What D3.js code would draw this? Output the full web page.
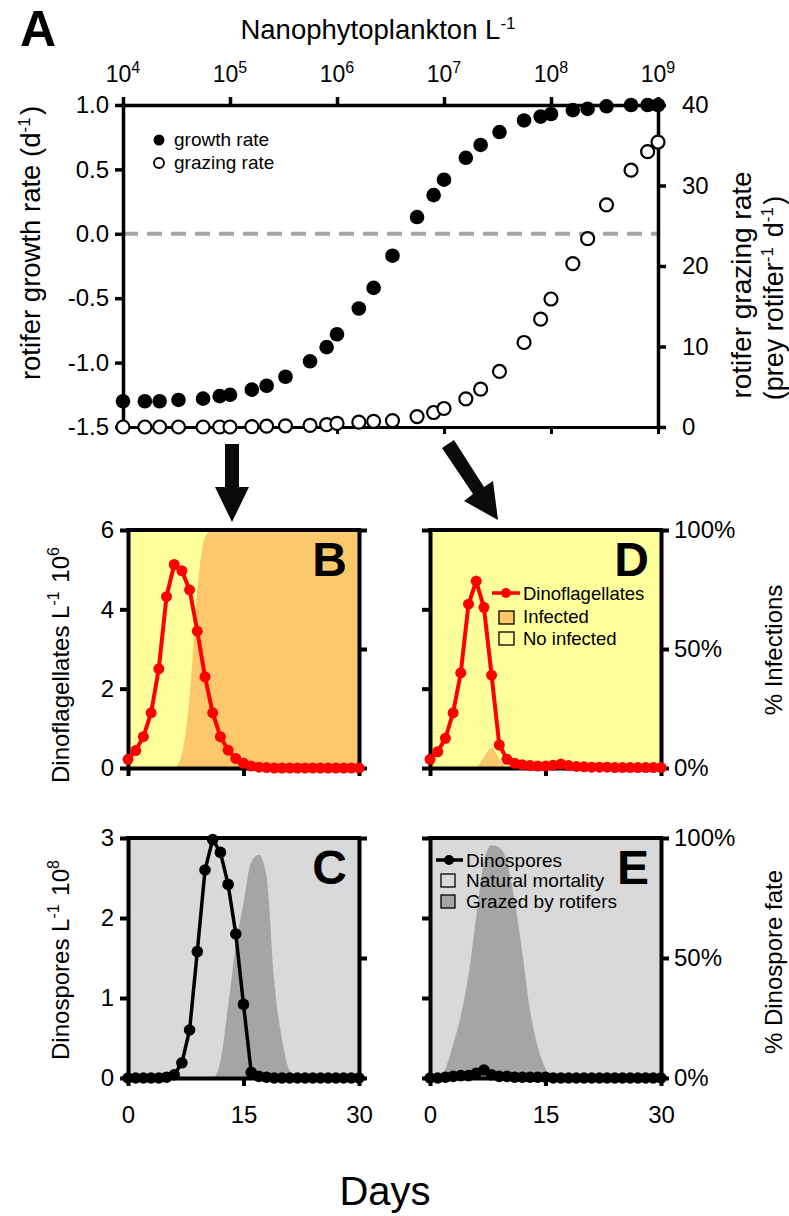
<!DOCTYPE html>
<html><head><meta charset="utf-8">
<script src="https://cdn.jsdelivr.net/npm/d3@7"></script>
<style>
html,body{margin:0;padding:0;background:#fff;}
svg text{font-family:"Liberation Sans",Arial,sans-serif;fill:#000;}
</style></head>
<body><svg id="c" width="789" height="1216"></svg>
<script>
// ---------------- DATA ----------------
// Panel A
const nanoConc = [1e4,1.6e4,2.2e4,3.3e4,5.6e4,8e4, 1e5,1.6e5,2.2e5,3.3e5,5.6e5,8e5,
  1e6,1.6e6,2.2e6,3.3e6,5.6e6,8e6, 1e7,1.6e7,2.2e7,3.3e7,5.6e7,8e7,
  1e8,1.6e8,2.2e8,3.3e8,5.6e8,8e8, 1e9];
const growthRate = [-1.30,-1.30,-1.30,-1.29,-1.28,-1.26,-1.25,-1.21,-1.18,-1.11,-0.99,-0.88,
  -0.78,-0.58,-0.42,-0.17,0.13,0.30,0.42,0.59,0.69,0.79,0.88,0.91,0.93,0.96,0.97,0.99,1.0,1.0,1.0];
const grazingRate = [0,0,0,0,0,0,0,0.05,0.1,0.15,0.2,0.3,0.45,0.6,0.7,0.8,1.3,1.8,2.3,3.5,4.7,6.9,
  10.5,13.4,15.9,20.3,23.4,27.6,31.9,34.2,35.4];
const topTickExps = [4,5,6,7,8,9];
const leftTicksA = [1.0,0.5,0.0,-0.5,-1.0,-1.5];
const rightTicksA = [0,10,20,30,40];

// Days 0..30
const days = d3.range(0,31);
// Panel B
const dinoB = [0.22,0.44,0.79,1.39,2.50,4.32,5.13,4.97,4.49,3.45,2.30,1.39,0.79,0.45,0.24,0.12,0.05,0.02,0.01,0,0,0,0,0,0,0,0,0,0,0,0];
const infectedB = [0,0,0,0,0,0,0,6,30,75,97,100,100,100,100,100,100,100,100,100,100,100,100,100,100,100,100,100,100,100,100];
// Panel D
const dinoD = [0.22,0.41,0.75,1.39,2.40,4.13,4.71,4.05,2.34,0.58,0.22,0.12,0.08,0.06,0.05,0.05,0.07,0.10,0.06,0.04,0.03,0.02,0.02,0.02,0.01,0.01,0.01,0.01,0.01,0.01,0.01];
const infectedD = [0,0,0,0,0,0,0.5,4.5,8.5,4,0,0,0,0,0,0,0,0,0,0,0,0,0,0,0,0,0,0,0,0,0];
// Panel C
const sporesC = [0,0,0,0,0,0.01,0.04,0.19,0.6,1.58,2.60,2.98,2.82,2.42,1.80,0.92,0.07,0.02,0.01,0,0,0,0,0,0,0,0,0,0,0,0];
const grazedC = [0,0,0,0,0,0,0,0,0,0,0,0,7,30,55,73,90,93,84,40,16,3,0,0,0,0,0,0,0,0,0];
// Panel E
const sporesE = [0,0,0.01,0.02,0.03,0.03,0.06,0.10,0.04,0.02,0.02,0.01,0.01,0.01,0.01,0.01,0,0,0,0,0,0,0,0,0,0,0,0,0,0,0];
const grazedE = [0,0,4,14,26,43,67,90,97,96,90,74,52,28,13,4,0,0,0,0,0,0,0,0,0,0,0,0,0,0,0];

const dayTicks = [0,15,30];
const dinoTicks = [0,2,4,6];
const sporeTicks = [0,1,2,3];
const pctTicks = [0,50,100];

// ---------------- DRAW ----------------
const svg = d3.select("#c");
const FONT = 24;

function richText(g, parts, attrs) {
  const t = g.append("text");
  for (const k in attrs) t.attr(k, attrs[k]);
  parts.forEach(p => {
    if (typeof p === "string") {
      t.append("tspan").text(p);
    } else {
      t.append("tspan").attr("dy", -p.up).attr("font-size", p.size).text(p.sup);
      if (!p.last) t.append("tspan").attr("dy", p.up).text("\u200A");
    }
  });
  return t;
}

function styleAxis(g, w) {
  g.selectAll("path.domain").attr("stroke", "#000").attr("stroke-width", w);
  g.selectAll(".tick line").attr("stroke", "#000").attr("stroke-width", w);
  g.selectAll(".tick text").attr("font-size", FONT).attr("font-family", "Liberation Sans, Arial, sans-serif").attr("fill", "#000");
}

// ===== Panel A =====
const A = {x0:123, x1:658, y0:105, y1:427};
const xA = d3.scaleLog().domain([1e4,1e9]).range([A.x0, A.x1]);
const yA = d3.scaleLinear().domain([-1.5,1]).range([A.y1, A.y0]);
const yA2 = d3.scaleLinear().domain([0,40]).range([A.y1, A.y0]);
const gA = svg.append("g");

// zero dashed line
gA.append("line").attr("x1", A.x0).attr("x2", A.x1).attr("y1", yA(0)).attr("y2", yA(0))
  .attr("stroke", "#a6a6a6").attr("stroke-width", 4).attr("stroke-dasharray", "15,9");

const decades = topTickExps.map(e => Math.pow(10, e));
const axTop = gA.append("g").attr("transform", `translate(0,${A.y0})`)
  .call(d3.axisTop(xA).tickValues(decades).tickFormat("").tickSize(8).tickSizeOuter(0));
styleAxis(axTop, 3.5);
const axBot = gA.append("g").attr("transform", `translate(0,${A.y1})`)
  .call(d3.axisBottom(xA).tickValues(decades).tickFormat("").tickSize(7).tickSizeOuter(0));
styleAxis(axBot, 3);
const axL = gA.append("g").attr("transform", `translate(${A.x0},0)`)
  .call(d3.axisLeft(yA).tickValues(leftTicksA).tickSize(8).tickSizeOuter(0).tickPadding(6)
    .tickFormat(d => d3.format(".1f")(d).replace("\u2212","-")));
styleAxis(axL, 3.5);
const axR = gA.append("g").attr("transform", `translate(${A.x1},0)`)
  .call(d3.axisRight(yA2).tickValues(rightTicksA).tickSize(8).tickSizeOuter(0).tickPadding(16)
    .tickFormat(d3.format("d")));
styleAxis(axR, 3.5);

// top tick labels 10^n
topTickExps.forEach(e => {
  const t = gA.append("text").attr("x", xA(Math.pow(10,e))).attr("y", 82)
    .attr("text-anchor", "middle").attr("font-size", 23);
  t.append("tspan").text("10");
  t.append("tspan").attr("dy", -9).attr("font-size", 16).text(String(e));
});
richText(gA, ["Nanophytoplankton L", {sup:"-1", up:10, size:17, last:true}],
  {x:378, y:39, "text-anchor":"middle", "font-size":27.5});
gA.append("text").attr("x", 20).attr("y", 46).attr("font-size", 50).attr("font-weight", "bold").text("A");

// left title
richText(gA, ["rotifer growth rate (d", {sup:"-1", up:10, size:17}, ")"],
  {transform:"translate(40,243) rotate(-90)", "text-anchor":"middle", "font-size":27.5});
richText(gA, ["rotifer grazing rate"],
  {transform:"translate(751,285) rotate(-90)", "text-anchor":"middle", "font-size":28});
richText(gA, ["(prey rotifer", {sup:"-1", up:10, size:17}, " d", {sup:"-1", up:10, size:17}, ")"],
  {transform:"translate(783,298) rotate(-90)", "text-anchor":"middle", "font-size":27});

// points
gA.append("g").selectAll("circle").data(nanoConc).join("circle")
  .attr("cx", (d) => xA(d)).attr("cy", (d,i) => yA2(grazingRate[i])).attr("r", 6.5)
  .attr("fill", "#fff").attr("stroke", "#000").attr("stroke-width", 2.2);
gA.append("g").selectAll("circle").data(nanoConc).join("circle")
  .attr("cx", (d) => xA(d)).attr("cy", (d,i) => yA(growthRate[i])).attr("r", 7.3)
  .attr("fill", "#000");

// legend A
gA.append("circle").attr("cx", 159).attr("cy", 140).attr("r", 5.5).attr("fill", "#000");
gA.append("text").attr("x", 174).attr("y", 146).attr("font-size", 19).text("growth rate");
gA.append("circle").attr("cx", 159).attr("cy", 163).attr("r", 5).attr("fill", "#fff").attr("stroke", "#000").attr("stroke-width", 1.8);
gA.append("text").attr("x", 174).attr("y", 169).attr("font-size", 19).text("grazing rate");

// arrows
svg.append("path").attr("fill", "#0a0a0a")
  .attr("d", "M225,444 L239,444 L239,487 L249,487 L232,522 L215,487 L225,487 Z");
svg.append("path").attr("fill", "#0a0a0a")
  .attr("d", "M442,448 L454,440 L484,487 L493,481 L498,520 L464,501 L473,494 Z");

// ===== small panels =====
function smallPanel(o) {
  const g = svg.append("g");
  const x = d3.scaleLinear().domain([0,30]).range([o.x0, o.x1]);
  const y = d3.scaleLinear().domain([0, o.ymax]).range([o.y1, o.y0]);
  const yp = d3.scaleLinear().domain([0,100]).range([o.y1, o.y0]);
  // background (100%)
  g.append("rect").attr("x", o.x0).attr("y", o.y0).attr("width", o.x1-o.x0).attr("height", o.y1-o.y0)
    .attr("fill", o.bg);
  // area of fraction
  const area = d3.area().x((d,i) => x(days[i])).y0(o.y1).y1(d => yp(d)).curve(d3.curveMonotoneX);
  g.append("path").datum(o.frac).attr("d", area).attr("fill", o.fg);
  // axes
  const axL = g.append("g").attr("transform", `translate(${o.x0},0)`)
    .call(d3.axisLeft(y).tickValues(o.yTicks).tickSize(8).tickSizeOuter(0).tickPadding(6)
      .tickFormat(o.leftLabels ? d3.format("d") : ""));
  styleAxis(axL, 4);
  const axR = g.append("g").attr("transform", `translate(${o.x1},0)`)
    .call(d3.axisRight(yp).tickValues(pctTicks).tickSize(8).tickSizeOuter(0).tickPadding(5)
      .tickFormat(o.rightLabels ? (d => d + "%") : ""));
  styleAxis(axR, 4);
  const axB = g.append("g").attr("transform", `translate(0,${o.y1})`)
    .call(d3.axisBottom(x).tickValues(dayTicks).tickSize(8).tickSizeOuter(0).tickPadding(20)
      .tickFormat(o.bottomLabels ? d3.format("d") : ""));
  styleAxis(axB, 4);
  g.append("line").attr("x1", o.x0-2).attr("x2", o.x1+2).attr("y1", o.y0).attr("y2", o.y0)
    .attr("stroke", "#000").attr("stroke-width", 4);
  // letter
  g.append("text").attr("x", o.x1-12).attr("y", o.y0+46).attr("text-anchor", "end")
    .attr("font-size", 48).attr("font-weight", "bold").text(o.letter);
  // line + points
  const line = d3.line().x((d,i) => x(days[i])).y(d => y(d));
  g.append("path").datum(o.series).attr("d", line).attr("fill", "none")
    .attr("stroke", o.lineColor).attr("stroke-width", o.lw);
  g.append("g").selectAll("circle").data(o.series).join("circle")
    .attr("cx", (d,i) => x(days[i])).attr("cy", d => y(d)).attr("r", o.r).attr("fill", o.lineColor);
  return g;
}

const yellow = "#ffff9c", orange = "#fdc86b", lgray = "#d9d9d9", dgray = "#a5a5a5";

smallPanel({x0:128, x1:359, y0:530, y1:768, ymax:6, yTicks:dinoTicks, bg:yellow, fg:orange,
  frac:infectedB, series:dinoB, lineColor:"#ff0000", lw:4, r:5.5, letter:"B",
  leftLabels:true, rightLabels:false, bottomLabels:false});
const gD = smallPanel({x0:430, x1:661, y0:530, y1:768, ymax:6, yTicks:dinoTicks, bg:yellow, fg:orange,
  frac:infectedD, series:dinoD, lineColor:"#ff0000", lw:4, r:5.5, letter:"D",
  leftLabels:false, rightLabels:true, bottomLabels:false});
smallPanel({x0:128, x1:359, y0:838, y1:1078, ymax:3, yTicks:sporeTicks, bg:lgray, fg:dgray,
  frac:grazedC, series:sporesC, lineColor:"#000", lw:3.5, r:5.8, letter:"C",
  leftLabels:true, rightLabels:false, bottomLabels:true});
const gE = smallPanel({x0:430, x1:661, y0:838, y1:1078, ymax:3, yTicks:sporeTicks, bg:lgray, fg:dgray,
  frac:grazedE, series:sporesE, lineColor:"#000", lw:3.5, r:5.8, letter:"E",
  leftLabels:false, rightLabels:true, bottomLabels:true});

// legend D
gD.append("line").attr("x1", 492).attr("x2", 520).attr("y1", 593).attr("y2", 593).attr("stroke", "#ff0000").attr("stroke-width", 3.5);
gD.append("circle").attr("cx", 506).attr("cy", 593).attr("r", 5).attr("fill", "#ff0000");
gD.append("text").attr("x", 523).attr("y", 600).attr("font-size", 18.5).text("Dinoflagellates");
gD.append("rect").attr("x", 499).attr("y", 611).attr("width", 15).attr("height", 13).attr("fill", orange).attr("stroke", "#000").attr("stroke-width", 1.3);
gD.append("text").attr("x", 523).attr("y", 623).attr("font-size", 18.5).text("Infected");
gD.append("rect").attr("x", 499).attr("y", 632).attr("width", 15).attr("height", 13).attr("fill", yellow).attr("stroke", "#000").attr("stroke-width", 1.3);
gD.append("text").attr("x", 523).attr("y", 645).attr("font-size", 18.5).text("No infected");

// legend E
gE.append("line").attr("x1", 436).attr("x2", 463).attr("y1", 860).attr("y2", 860).attr("stroke", "#000").attr("stroke-width", 3.5);
gE.append("circle").attr("cx", 449).attr("cy", 860).attr("r", 5).attr("fill", "#000");
gE.append("text").attr("x", 466).attr("y", 867).attr("font-size", 19).text("Dinospores");
gE.append("rect").attr("x", 441).attr("y", 874).attr("width", 14).attr("height", 13).attr("fill", lgray).attr("stroke", "#000").attr("stroke-width", 1.3);
gE.append("text").attr("x", 466).attr("y", 887).attr("font-size", 19).text("Natural mortality");
gE.append("rect").attr("x", 441).attr("y", 895).attr("width", 14).attr("height", 13).attr("fill", dgray).attr("stroke", "#000").attr("stroke-width", 1.3);
gE.append("text").attr("x", 466).attr("y", 908).attr("font-size", 19).text("Grazed by rotifers");

// side titles
richText(svg, ["Dinoflagellates L", {sup:"-1", up:10, size:16}, " 10", {sup:"6", up:10, size:16, last:true}],
  {transform:"translate(69,665) rotate(-90)", "text-anchor":"middle", "font-size":24});
richText(svg, ["Dinospores L", {sup:"-1", up:10, size:16}, " 10", {sup:"8", up:10, size:16, last:true}],
  {transform:"translate(69,960) rotate(-90)", "text-anchor":"middle", "font-size":24});
richText(svg, ["% Infections"],
  {transform:"translate(782,650) rotate(-90)", "text-anchor":"middle", "font-size":24});
richText(svg, ["% Dinospore fate"],
  {transform:"translate(782,962) rotate(-90)", "text-anchor":"middle", "font-size":24});
svg.append("text").attr("x", 385).attr("y", 1205).attr("text-anchor", "middle").attr("font-size", 40).text("Days");
</script></body></html>
